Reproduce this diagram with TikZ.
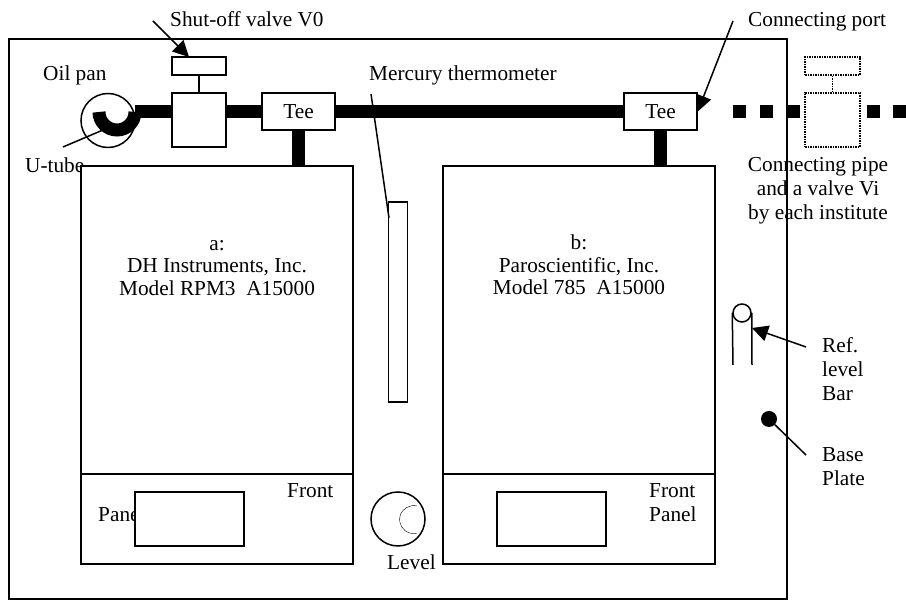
\documentclass[tikz,border=0pt]{standalone}
\usepackage{fontspec}
\setmainfont{Liberation Serif}
\usetikzlibrary{arrows.meta}
\tikzset{
  box/.style={draw,rectangle,line width=1.5pt,fill=white,inner sep=0pt},
  dotbox/.style={draw,rectangle,line width=1.5pt,densely dotted,inner sep=0pt},
  lab/.style={inner sep=0pt,font=\fontsize{21.3}{24}\selectfont,align=center},
  pipe/.style={line width=13pt},
  pointer/.style={line width=1.5pt},
  bigtip/.style={-{Triangle[length=16pt,width=16pt]},line width=1.5pt}
}
\begin{document}
\begin{tikzpicture}[x=1pt,y=1pt]
  \useasboundingbox (0,0) rectangle (906,601);
  \node[draw,rectangle,line width=1.5pt,minimum width=778pt,minimum height=560pt,inner sep=0pt] (plate) at (398,282) {};

  % labels that get covered by the boxes go first
  \node[lab,anchor=west] (utubelab) at (25,436) {U-tube};

  % pipe run
  \node[box,minimum width=73pt,minimum height=37pt] (teea) at (298.5,489.5) {};
  \node[box,minimum width=73pt,minimum height=37pt] (teeb) at (660.5,489.5) {};
  \node[box,minimum width=54pt,minimum height=54pt] (valve) at (199,481) {};
  \node[box,minimum width=54pt,minimum height=18pt] (knob) at (199,535) {};
  \node[draw,circle,line width=1.5pt,minimum size=54pt,inner sep=0pt] (oilpan) at (108,480.5) {};
  \node[box,minimum width=272pt,minimum height=308pt] (bodya) at (217,281) {};
  \node[box,minimum width=272pt,minimum height=90pt] (fronta) at (217,82) {};
  \node[box,minimum width=272pt,minimum height=308pt] (bodyb) at (579,281) {};
  \node[box,minimum width=272pt,minimum height=90pt] (frontb) at (579,82) {};
  \node[lab,anchor=west] (panellab) at (98,87) {Panel};
  \node[box,minimum width=109pt,minimum height=54pt] (screena) at (189.5,82) {};
  \node[box,minimum width=109pt,minimum height=54pt] (screenb) at (551.5,82) {};
  \node[box,minimum width=19pt,minimum height=200pt] (thermo) at (398,299) {};
  \node[draw,circle,line width=1.5pt,minimum size=54pt,inner sep=0pt] (level) at (398,82) {};
  \draw[line width=.4pt] (417,95) arc[start angle=76,end angle=284,radius=14];

  \coordinate (panend) at (135,489.5);
  \draw[pipe] (panend) -- (valve.west |- panend);
  \draw[pipe] (valve.east |- panend) -- (teea.west |- panend);
  \draw[pipe] (teea.east |- panend) -- (teeb.west |- panend);
  \draw[pipe] (teea.south) -- (teea.south |- bodya.north);
  \draw[pipe] (teeb.south) -- (teeb.south |- bodyb.north);
  \draw[line width=13pt] (99,489) arc[start angle=180,end angle=360,radius=18];
  \draw[pointer] (knob.south) -- (valve.north);

  % valve added by the institute
  \node[dotbox,minimum width=55pt,minimum height=54pt] (valvei) at (832.5,481) {};
  \node[dotbox,minimum width=55pt,minimum height=18pt] (knobi) at (832.5,535) {};
  \draw[line width=1.5pt,densely dotted] (knobi.south) -- (valvei.north);
  \coordinate (dashstart) at (733,489.5);
  \coordinate (dashend) at (906,489.5);
  \draw[pipe,dash pattern=on 13.3pt off 13.3pt] (dashstart) -- (valvei.west |- dashstart);
  \draw[pipe,dash pattern=on 13.3pt off 13.3pt,dash phase=20.6pt] (valvei.east |- dashend) -- (dashend);

  % ref. level bar and base plate marker
  \node[draw,circle,line width=1.5pt,minimum size=18pt,inner sep=0pt] (bar) at (742,288) {};
  \coordinate (barl) at (733,236);
  \coordinate (barr) at (752,236);
  \draw[pointer] (bar.west) -- (barl);
  \draw[pointer] (bar.east) -- (barr);
  \node[circle,fill=black,minimum size=16pt,inner sep=0pt] (basedot) at (769,182) {};

  % pointers
  \coordinate (valvefrom) at (153,580);
  \coordinate (valveto) at (189,544);
  \coordinate (portfrom) at (733,580);
  \coordinate (utubefrom) at (63,454);
  \coordinate (utubeto) at (103,471);
  \coordinate (thermofrom) at (371,507);
  \coordinate (thermoto) at (389,383);
  \coordinate (barfrom) at (806,254);
  \coordinate (barto) at (752,273);
  \coordinate (basefrom) at (806,146);
  \draw[bigtip] (valvefrom) -- (valveto);
  \draw[bigtip] (portfrom) -- (teeb.east);
  \draw[pointer] (utubefrom) -- (utubeto);
  \draw[pointer] (thermofrom) -- (thermoto);
  \draw[bigtip] (barfrom) -- (barto);
  \draw[pointer] (basefrom) -- (basedot);

  \node[lab] (teealab) at (teea) {Tee};
  \node[lab] (teeblab) at (teeb) {Tee};
  \node[lab,anchor=west] (valvelab) at (170,582) {Shut-off valve V0};
  \node[lab,anchor=west] (portlab) at (748,579) {Connecting port};
  \node[lab,anchor=west] (oillab) at (43,526) {Oil pan};
  \node[lab,anchor=west] (mercurylab) at (369,526) {Mercury thermometer};
  \node[lab] (pipelab) at (818,410) {Connecting pipe\\and a valve Vi\\by each institute};
  \node[lab] (alab) at (217,333) {a:\\[-1.5pt]DH Instruments, Inc.\\[-1.5pt]Model RPM3\ \ A15000};
  \node[lab] (blab) at (579,336) {b:\\[-1.5pt]Paroscientific, Inc.\\[-1.5pt]Model 785\ \ A15000};
  \node[lab,anchor=west] (frontlab) at (287,110) {Front};
  \node[lab,align=left,anchor=west] (frontblab) at (649,98) {Front\\Panel};
  \node[lab,anchor=west] (levellab) at (387,39) {Level};
  \node[lab,align=left,anchor=west] (reflab) at (822,232) {Ref.\\level\\Bar};
  \node[lab,align=left,anchor=west] (baselab) at (822,134) {Base\\Plate};
\end{tikzpicture}
\end{document}
